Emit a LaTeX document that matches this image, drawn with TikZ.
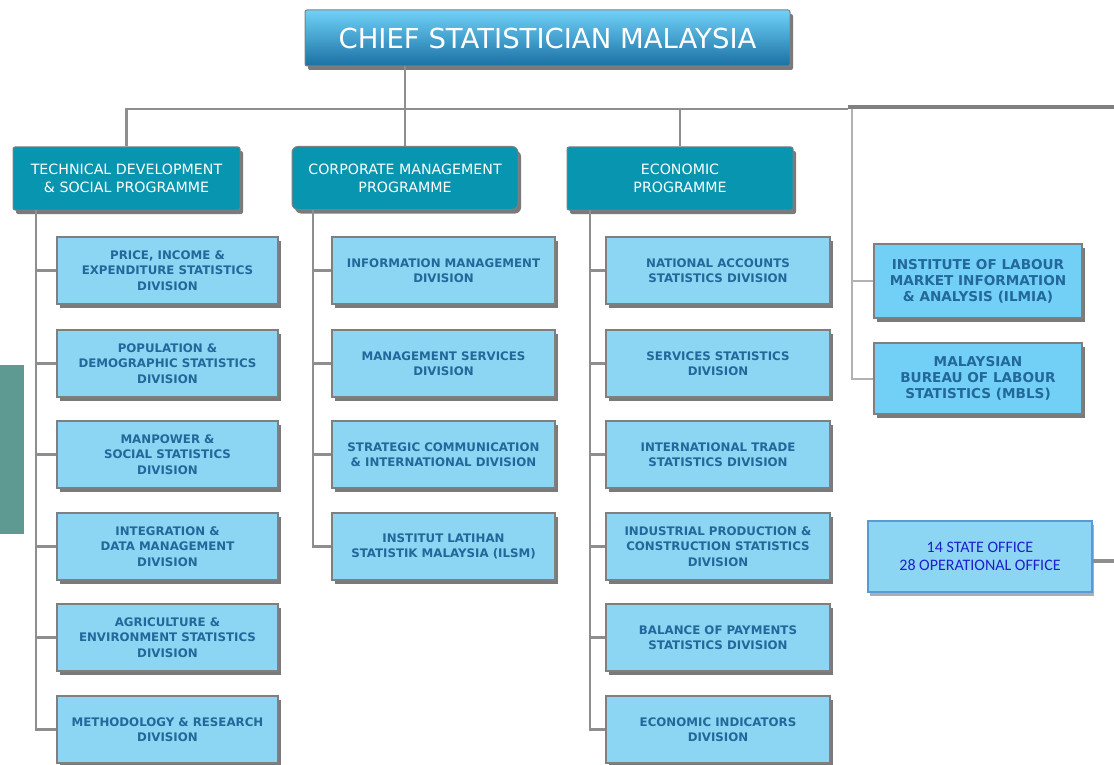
\documentclass[tikz,border=0pt]{standalone}
\usepackage{fontspec}
\setmainfont{DejaVu Sans}
\newfontfamily\calib{Carlito}
\usetikzlibrary{shadows}
\definecolor{divfill}{HTML}{8CD5F3}
\definecolor{labfill}{HTML}{72D0F6}
\definecolor{progfill}{HTML}{0795B0}
\definecolor{divtext}{HTML}{22689A}
\definecolor{bordergray}{HTML}{7F7F7F}
\definecolor{linegray}{HTML}{8E8E8E}
\definecolor{topA}{HTML}{70D2F8}
\definecolor{topB}{HTML}{1A70A4}
\definecolor{sidegreen}{HTML}{5F9A92}
\definecolor{stateborder}{HTML}{5B9BD5}
\definecolor{statetext}{HTML}{1F1FCC}
\tikzset{
  shad/.style={drop shadow={shadow xshift=3pt,shadow yshift=-4pt,fill=black!65,opacity=0.8}},
  divbox/.style={shad,draw=bordergray,line width=1.2pt,fill=divfill,inner sep=0pt,
    minimum height=67pt,align=center,text=divtext,
    font=\fontsize{11.8}{15.5}\selectfont\bfseries},
  progbox/.style={shad,draw=bordergray,line width=1pt,fill=progfill,rounded corners=2pt,inner sep=0pt,
    minimum width=226pt,minimum height=63pt,align=center,text=white,
    font=\fontsize{14.2}{18}\selectfont},
  conn/.style={draw=linegray,line width=2.6pt},
  thinconn/.style={draw=black!30,line width=2pt},
}
\begin{document}
\begin{tikzpicture}[x=1pt,y=-1pt]
\useasboundingbox (0,0) rectangle (1114,765);
\fill[sidegreen] (0,365) rectangle (24,534);
% top
\node[shad,draw=bordergray,line width=1pt,top color=topA,bottom color=topB,rounded corners=2pt,
  minimum width=485pt,minimum height=56pt,inner sep=0pt,text=white,
  font=\fontsize{27.5}{30}\selectfont] (top) at (547.5,38) {CHIEF STATISTICIAN MALAYSIA};
% programmes
\node[progbox,minimum width=227pt] (tech) at (126.5,178.5) {TECHNICAL DEVELOPMENT\\\& SOCIAL PROGRAMME};
\node[progbox,rounded corners=6pt] (corp) at (405,178) {CORPORATE MANAGEMENT\\PROGRAMME};
\node[progbox] (econ) at (680,178.5) {ECONOMIC\\PROGRAMME};
% left divisions
\begin{scope}[every node/.style={divbox,minimum width=221pt}]
\node (t1) at (167.5,270.5) {PRICE, INCOME \&\\EXPENDITURE STATISTICS\\DIVISION};
\node (t2) at (167.5,363.5) {POPULATION \&\\DEMOGRAPHIC STATISTICS\\DIVISION};
\node (t3) at (167.5,454.5) {MANPOWER \&\\SOCIAL STATISTICS\\DIVISION};
\node (t4) at (167.5,546.5) {INTEGRATION \&\\DATA MANAGEMENT\\DIVISION};
\node (t5) at (167.5,637.5) {AGRICULTURE \&\\ENVIRONMENT STATISTICS\\DIVISION};
\node (t6) at (167.5,729.5) {METHODOLOGY \& RESEARCH\\DIVISION};
\end{scope}
\begin{scope}[every node/.style={divbox,minimum width=223pt}]
\node (c1) at (443.5,270.5) {INFORMATION MANAGEMENT\\DIVISION};
\node (c2) at (443.5,363.5) {MANAGEMENT SERVICES\\DIVISION};
\node (c3) at (443.5,454.5) {STRATEGIC COMMUNICATION\\\& INTERNATIONAL DIVISION};
\node (c4) at (443.5,546.5) {INSTITUT LATIHAN\\STATISTIK MALAYSIA (ILSM)};
\end{scope}
\begin{scope}[every node/.style={divbox,minimum width=224pt}]
\node (e1) at (718,270.5) {NATIONAL ACCOUNTS\\STATISTICS DIVISION};
\node (e2) at (718,363.5) {SERVICES STATISTICS\\DIVISION};
\node (e3) at (718,454.5) {INTERNATIONAL TRADE\\STATISTICS DIVISION};
\node (e4) at (718,546.5) {INDUSTRIAL PRODUCTION \&\\CONSTRUCTION STATISTICS\\DIVISION};
\node (e5) at (718,637.5) {BALANCE OF PAYMENTS\\STATISTICS DIVISION};
\node (e6) at (718,729.5) {ECONOMIC INDICATORS\\DIVISION};
\end{scope}
\begin{scope}[every node/.style={divbox,fill=labfill,minimum width=208pt,font=\fontsize{13.6}{16}\selectfont\bfseries}]
\node[minimum height=74pt] (ilmia) at (978,281) {INSTITUTE OF LABOUR\\MARKET INFORMATION\\\& ANALYSIS (ILMIA)};
\node[minimum height=71pt] (mbls) at (978,378.5) {MALAYSIAN\\BUREAU OF LABOUR\\STATISTICS (MBLS)};
\end{scope}
\node[drop shadow={shadow xshift=2pt,shadow yshift=-4pt,fill=black!45,opacity=0.7},
  draw=stateborder,line width=1.5pt,fill=divfill,minimum width=224pt,minimum height=71pt,
  inner sep=0pt,align=center,text=statetext,font=\calib\fontsize{16}{18}\selectfont]
  (state) at (980,556.5) {14 STATE OFFICE\\28 OPERATIONAL OFFICE};
% connectors
\coordinate (bus) at (0,109);
\coordinate (busend) at (848,109);
\coordinate (rbus) at (1114,107);
\coordinate (sL) at (36,210);
\coordinate (sC) at (313,210);
\coordinate (sE) at (590,210);
\coordinate (sR) at (852,109);
\coordinate (sEnd) at (1114,561);
\draw[conn] (top.south -| corp.north) -- (corp.north);
\draw[conn] (tech.north) -- (tech.north |- bus) -- (busend);
\draw[conn] (econ.north |- bus) -- (econ.north);
\draw[draw=linegray!90!black,line width=3.6pt] (busend |- rbus) -- (rbus);
\foreach \n in {t1,t2,t3,t4,t5,t6} \draw[conn,line width=2.2pt] (sL) |- (\n.west);
\foreach \n in {c1,c2,c3,c4} \draw[conn,line width=2.2pt] (sC) |- (\n.west);
\foreach \n in {e1,e2,e3,e4,e5,e6} \draw[conn,line width=2.2pt] (sE) |- (\n.west);
\foreach \n in {ilmia,mbls} \draw[thinconn] (sR) |- (\n.west);
\draw[draw=linegray,line width=4pt] (state.east |- sEnd) -- (sEnd);
\end{tikzpicture}
\end{document}
